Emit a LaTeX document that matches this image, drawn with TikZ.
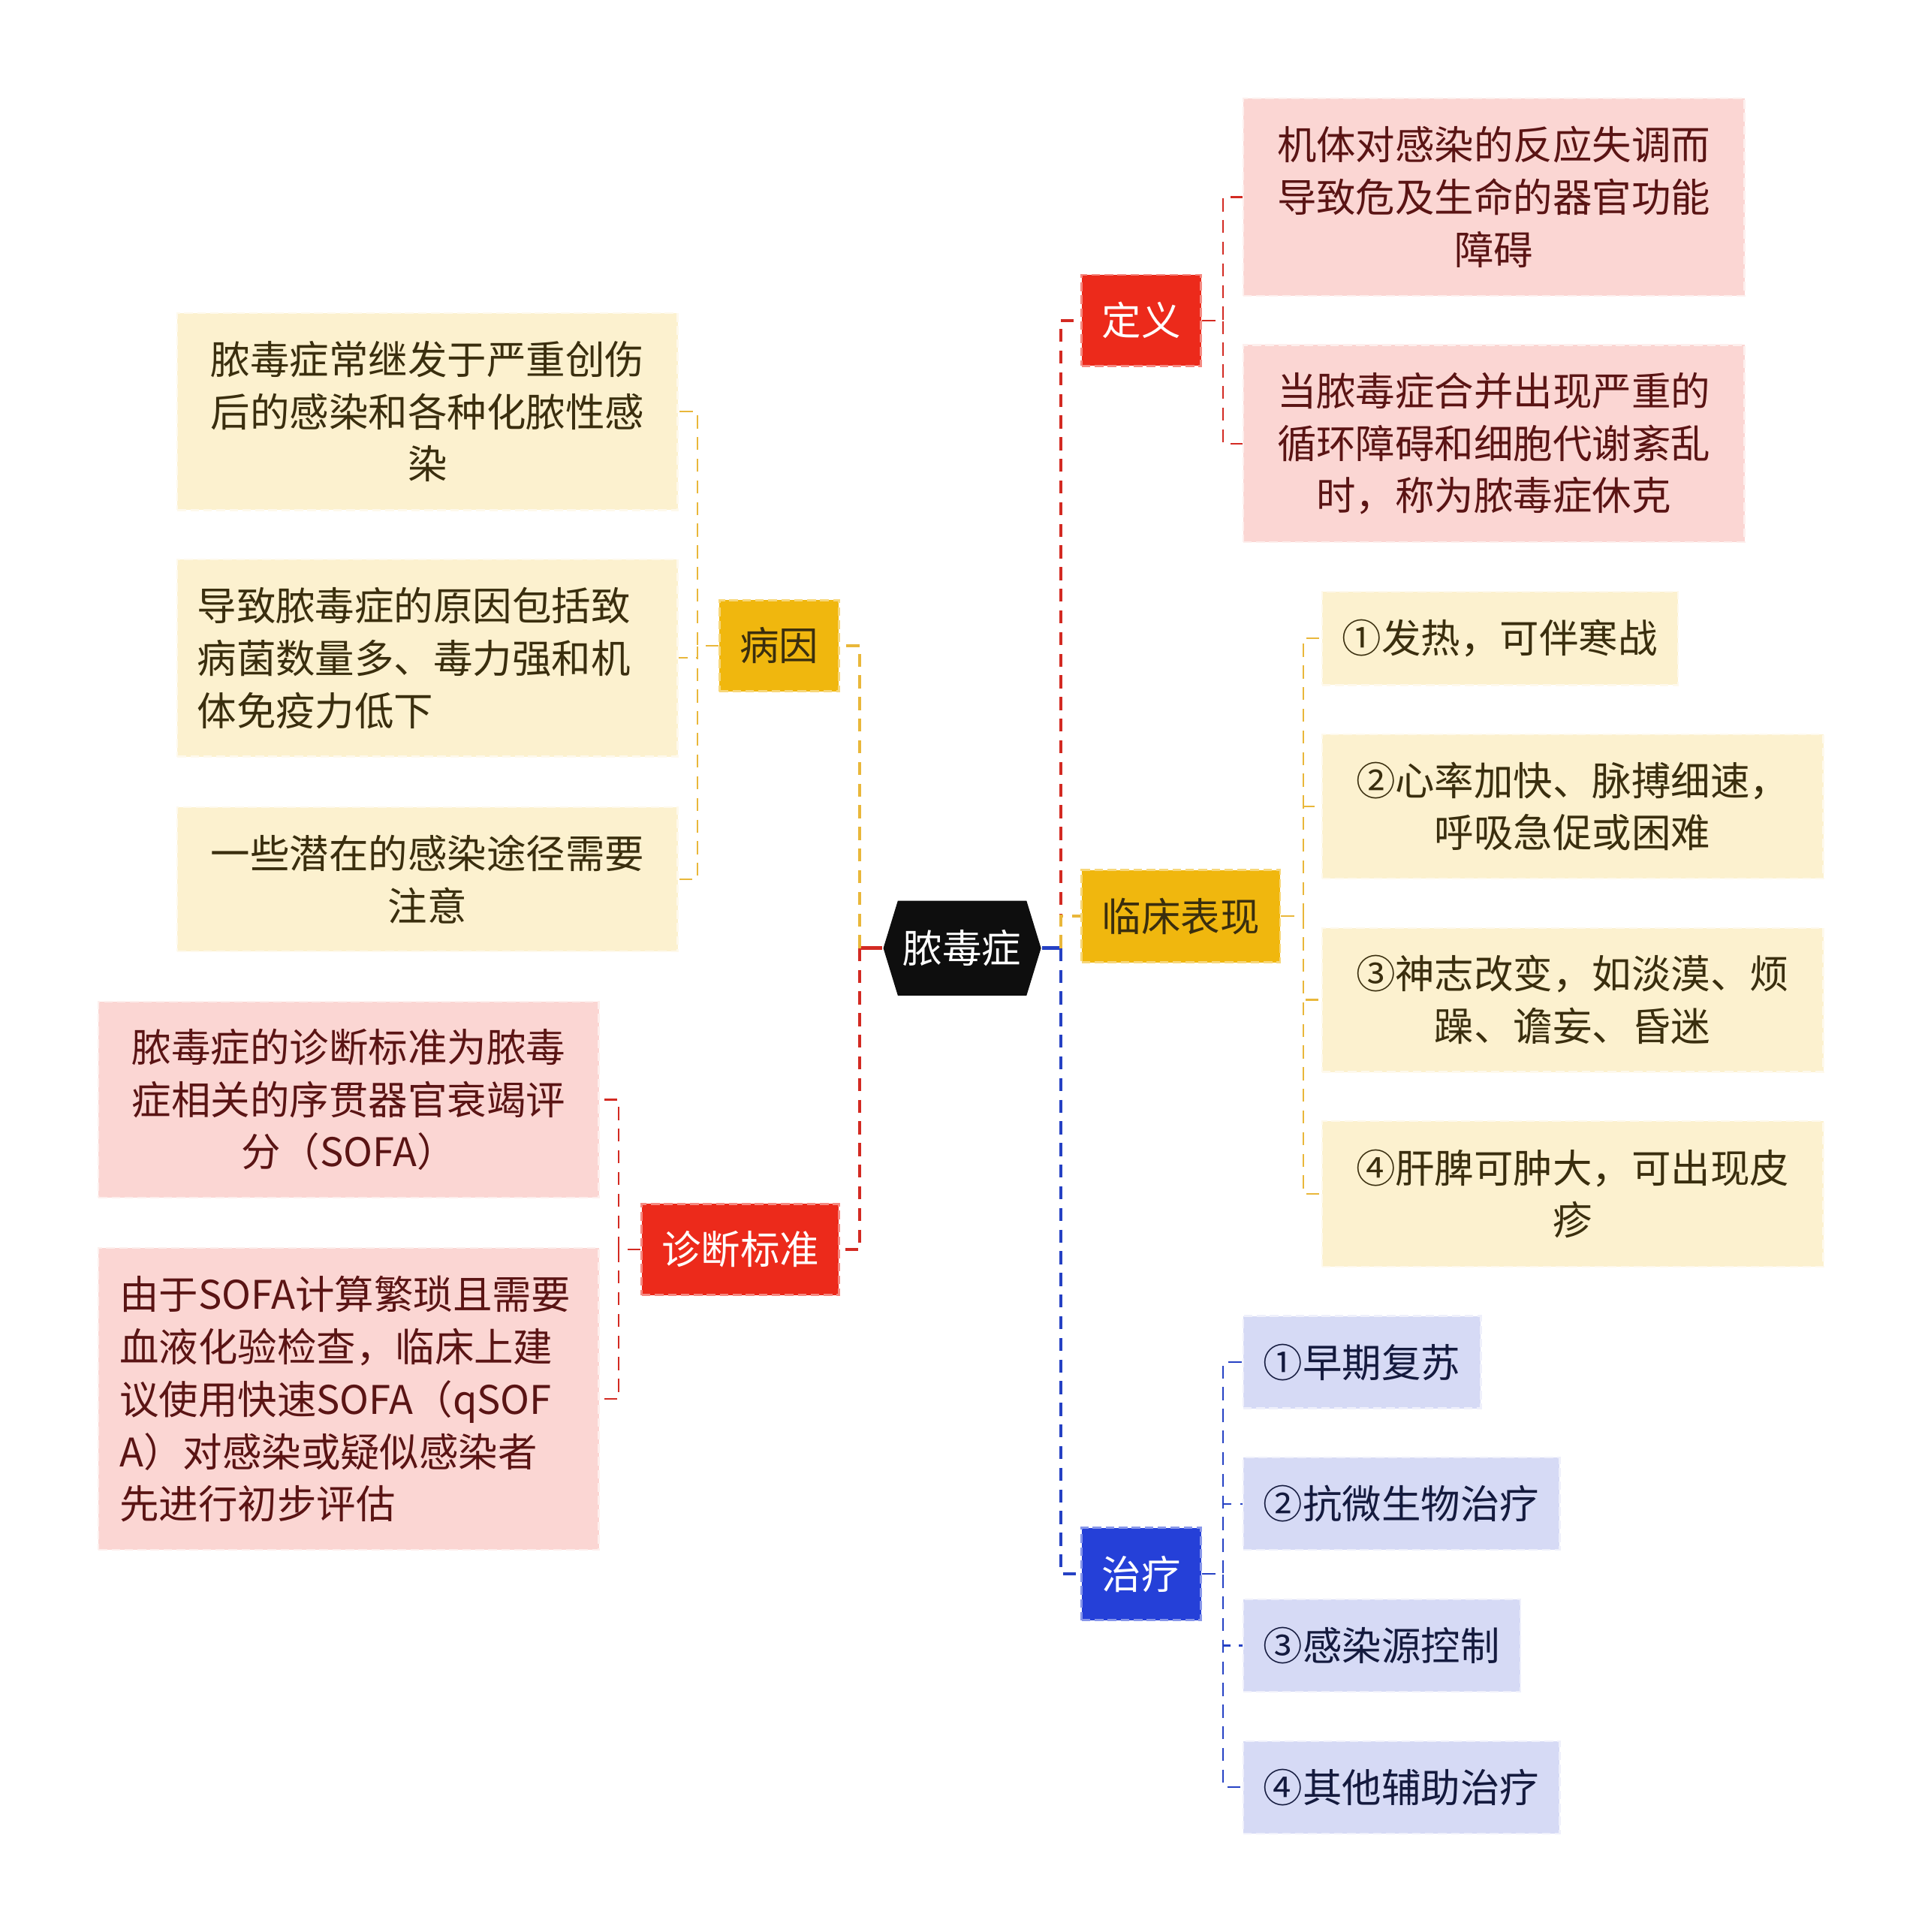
\documentclass[tikz,border=0pt]{standalone}
\usepackage{fontspec}
\setmainfont{Noto Sans CJK SC}
\usetikzlibrary{shapes.symbols}

\definecolor{sepred}{HTML}{EC2A1B}
\definecolor{sepgold}{HTML}{F0B70E}
\definecolor{sepblue}{HTML}{2540D8}
\definecolor{rootblack}{HTML}{0E0E0E}
\definecolor{creamfill}{HTML}{FCF1CF}
\definecolor{pinkfill}{HTML}{FBD6D3}
\definecolor{lilacfill}{HTML}{D6DAF5}
\definecolor{browntext}{HTML}{3A2E0E}
\definecolor{maroontext}{HTML}{5A1414}
\definecolor{navytext}{HTML}{141A3E}
\definecolor{goldline}{HTML}{E9B73A}
\definecolor{redline}{HTML}{D32A22}
\definecolor{blueline}{HTML}{2541C4}

\tikzset{
  every node/.style={font=\fontsize{9.1}{12.1}\selectfont},
  hexroot/.style={shape=signal, signal to=east and west, signal pointer angle=146,
    fill=rootblack, text=white, minimum width=1.28cm, minimum height=0.77cm, inner sep=0pt},
  topic/.style 2 args={fill=#1, text=#2, draw=#1!55!white, dash pattern=on 2pt off 1pt,
    line width=0.5pt, inner sep=0pt, align=center},
  leaf/.style 2 args={fill=#1, text=#2, draw=white!60!#1, dash pattern=on 2pt off 1pt,
    line width=0.4pt, inner sep=0pt, align=center},
  boxsize/.style 2 args={minimum width=#1cm, minimum height=#2cm},
  stem/.style={line width=0.8pt},
  trunk/.style={line width=0.7pt, dash pattern=on 3pt off 2pt},
  twig/.style={line width=0.4pt, dash pattern=on 3pt off 2pt}
}

\begin{document}
\begin{tikzpicture}[x=0.1mm, y=-0.1mm]
    \useasboundingbox (0,0) rectangle (1560,1568);

    % centre
    \node[hexroot] (sepsis) at (781,769.5) {脓毒症};
    \coordinate (lt) at (698,769.5);
    \coordinate (rt) at (861,769.5);

    % main topics
    \node[topic={sepred}{white}, boxsize={0.97}{0.74}] (dingyi) at (926.5,260) {定义};
    \node[topic={sepgold}{browntext}, boxsize={1.61}{0.75}] (linchuang) at (958.5,743.5) {临床表现};
    \node[topic={sepblue}{white}, boxsize={0.97}{0.75}] (zhiliao) at (926.5,1277.5) {治疗};
    \node[topic={sepgold}{browntext}, boxsize={0.97}{0.74}] (bingyin) at (632.5,524) {病因};
    \node[topic={sepred}{white}, boxsize={1.60}{0.74}] (zhenduan) at (601,1014) {诊断标准};

    % definition
    \node[leaf={pinkfill}{maroontext}, boxsize={4.07}{1.60}] (dy1) at (1212.5,160)
        {机体对感染的反应失调而\\导致危及生命的器官功能\\障碍};
    \node[leaf={pinkfill}{maroontext}, boxsize={4.07}{1.60}] (dy2) at (1212.5,360)
        {当脓毒症合并出现严重的\\循环障碍和细胞代谢紊乱\\时，称为脓毒症休克};

    % clinical signs
    \node[leaf={creamfill}{browntext}, boxsize={2.89}{0.76}] (lc1) at (1217.5,518) {①发热，可伴寒战};
    \node[leaf={creamfill}{browntext}, boxsize={4.07}{1.17}] (lc2) at (1276.5,654.5)
        {②心率加快、脉搏细速，\\呼吸急促或困难};
    \node[leaf={creamfill}{browntext}, boxsize={4.07}{1.17}] (lc3) at (1276.5,811.5)
        {③神志改变，如淡漠、烦\\躁、谵妄、昏迷};
    \node[leaf={creamfill}{browntext}, boxsize={4.07}{1.18}] (lc4) at (1276.5,969)
        {④肝脾可肿大，可出现皮\\疹};

    % treatment
    \node[leaf={lilacfill}{navytext}, boxsize={1.93}{0.75}] (zl1) at (1105.5,1105.5) {①早期复苏};
    \node[leaf={lilacfill}{navytext}, boxsize={2.57}{0.75}] (zl2) at (1137.5,1220.5) {②抗微生物治疗};
    \node[leaf={lilacfill}{navytext}, boxsize={2.25}{0.75}] (zl3) at (1121.5,1335.5) {③感染源控制};
    \node[leaf={lilacfill}{navytext}, boxsize={2.57}{0.75}] (zl4) at (1137.5,1450.5) {④其他辅助治疗};

    % causes
    \node[leaf={creamfill}{browntext}, boxsize={4.06}{1.60}] (by1) at (347,334)
        {脓毒症常继发于严重创伤\\后的感染和各种化脓性感\\染};
    \node[leaf={creamfill}{browntext}, boxsize={4.06}{1.60}, align=left, text width=3.74cm] (by2) at (347,534)
        {导致脓毒症的原因包括致\\病菌数量多、毒力强和机\\体免疫力低下};
    \node[leaf={creamfill}{browntext}, boxsize={4.06}{1.17}] (by3) at (347,713.5)
        {一些潜在的感染途径需要\\注意};

    % diagnosis
    \node[leaf={pinkfill}{maroontext}, boxsize={4.06}{1.59}] (zd1) at (283,892.5)
        {脓毒症的诊断标准为脓毒\\症相关的序贯器官衰竭评\\分（SOFA）};
    \node[leaf={pinkfill}{maroontext}, boxsize={4.06}{2.45}, align=left, text width=3.72cm] (zd2) at (283,1135.5)
        {由于SOFA计算繁琐且需要\\血液化验检查，临床上建\\议使用快速SOFA（qSOF\\A）对感染或疑似感染者\\先进行初步评估};

    % connectors
    \draw[stem, redline] (sepsis.west) -- (lt);
    \draw[stem, blueline] (sepsis.east) -- (rt);
    \draw[trunk, goldline] (lt) |- (bingyin.east);
    \draw[trunk, redline] (lt) |- (zhenduan.east);
    \draw[trunk, redline] (rt) |- (dingyi.west);
    \draw[trunk, goldline] (rt) |- (linchuang.west);
    \draw[trunk, blueline] (rt) |- (zhiliao.west);

    \foreach \c in {dy1,dy2}
        \draw[twig, redline] (dingyi.east) -- ++(17,0) |- (\c.west);
    \foreach \c in {lc1,lc2,lc3,lc4}
        \draw[twig, goldline] (linchuang.east) -- ++(18,0) |- (\c.west);
    \foreach \c in {zl1,zl2,zl3,zl4}
        \draw[twig, blueline] (zhiliao.east) -- ++(17,0) |- (\c.west);
    \foreach \c in {by1,by2,by3}
        \draw[twig, goldline] (bingyin.west) -- ++(-17,0) |- (\c.east);
    \foreach \c in {zd1,zd2}
        \draw[twig, redline] (zhenduan.west) -- ++(-18,0) |- (\c.east);
\end{tikzpicture}
\end{document}
